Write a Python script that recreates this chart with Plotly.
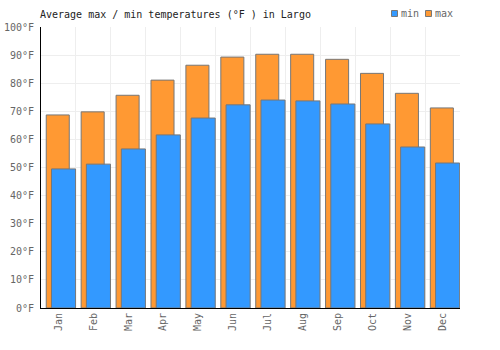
import plotly.graph_objects as go

months = ["Jan", "Feb", "Mar", "Apr", "May", "Jun", "Jul", "Aug", "Sep", "Oct", "Nov", "Dec"]
max_temps = [68.7, 69.8, 75.7, 81.1, 86.4, 89.3, 90.3, 90.3, 88.5, 83.5, 76.4, 71.2]
min_temps = [49.5, 51.2, 56.6, 61.6, 67.6, 72.3, 74.0, 73.7, 72.6, 65.5, 57.3, 51.6]
series_names = ["min", "max"]

FONT = "DejaVu Sans Mono"
BLUE = "#3399ff"
ORANGE = "#ff9933"
EDGE = "#777777"
line = dict(color=EDGE, width=1)

W, H = 500, 350
L, R, T, B = 41, 40, 27, 42
PW, PH = W - L - R, H - T - B


def px_x(p):
    return (p - L) / PW


def px_y(p):
    return (H - B - p) / PH


fig = go.Figure()
fig.add_trace(go.Bar(
    x=months, y=max_temps, name=series_names[1], showlegend=False,
    marker=dict(color=ORANGE, line=line),
    offset=-0.35, width=0.66,
    hovertemplate="%{x}: %{y}°F<extra>max</extra>",
))
fig.add_trace(go.Bar(
    x=months, y=min_temps, name=series_names[0], showlegend=False,
    marker=dict(color=BLUE, line=line),
    offset=-0.2, width=0.69,
    hovertemplate="%{x}: %{y}°F<extra>min</extra>",
))

# compact legend: square + label, like the reference
shapes, annotations = [], []
for name, col, sx in [(series_names[0], BLUE, 391), (series_names[1], ORANGE, 425)]:
    shapes.append(dict(
        type="rect", xref="paper", yref="paper",
        x0=px_x(sx + 0.5), x1=px_x(sx + 6.5), y0=px_y(16.5), y1=px_y(10.5),
        fillcolor=col, line=dict(color=EDGE, width=1),
    ))
    annotations.append(dict(
        text=name, xref="paper", yref="paper", x=px_x(sx + 8), y=px_y(13.5),
        xanchor="left", yanchor="middle", showarrow=False,
        font=dict(family=FONT, size=10, color="#666666"),
    ))

fig.update_layout(
    width=W, height=H,
    margin=dict(l=L, r=R, t=T, b=B, autoexpand=False, pad=0),
    paper_bgcolor="white", plot_bgcolor="white",
    barmode="overlay",
    showlegend=False,
    font=dict(family=FONT, size=10, color="#666666"),
    title=dict(
        text="Average max / min temperatures (°F ) in Largo",
        font=dict(family=FONT, size=10, color="#222222"),
        x=40/W, xanchor="left", xref="container",
        y=1-14/H, yanchor="middle", yref="container",
    ),
    shapes=shapes,
    annotations=annotations,
    xaxis=dict(
        type="category", tickson="boundaries", showgrid=True, gridcolor="#eeeeee",
        showline=True, linecolor="#000000", linewidth=1,
        tickangle=-90, ticks="", range=[-0.5, 11.5], automargin=False,
    ),
    yaxis=dict(
        range=[0, 100], dtick=10, ticksuffix="°F", showgrid=True, gridcolor="#eeeeee",
        showline=True, linecolor="#000000", linewidth=1, zeroline=False, ticks="",
        automargin=False, ticklabelstandoff=4,
    ),
)

fig.write_html("out.html")
